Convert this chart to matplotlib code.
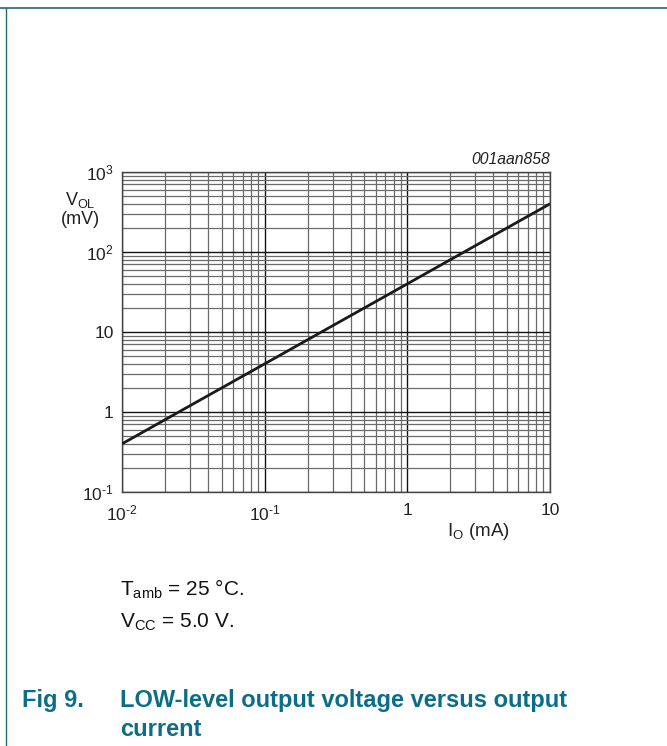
import matplotlib.pyplot as plt
import matplotlib.ticker as mticker
from matplotlib.lines import Line2D

plt.rcParams['font.family'] = ['Liberation Sans', 'DejaVu Sans']
plt.rcParams['mathtext.fontset'] = 'custom'
plt.rcParams['mathtext.rm'] = 'Liberation Sans'
plt.rcParams['mathtext.it'] = 'Liberation Sans:italic'

# data
io_ma = [0.01, 10]
vol_mv = [0.4, 400]
xticks = [0.01, 0.1, 1, 10]
xlabels = ['10$^{\\text{-}2}$', '10$^{\\text{-}1}$', '1', '10']
yticks = [0.1, 1, 10, 100, 1000]
ylabels = ['10$^{\\text{-}1}$', '1', '10', '10$^{2}$', '10$^{3}$']

teal = '#0c6e86'

fig = plt.figure(figsize=(6.67, 7.46), dpi=100)
ax = fig.add_axes([122 / 667, 254 / 746, 428 / 667, 320 / 746])

ax.plot(io_ma, vol_mv, color='#1a1a1a', lw=2.0, zorder=3, solid_capstyle='butt')

ax.set_xscale('log')
ax.set_yscale('log')
ax.set_xlim(0.01, 10)
ax.set_ylim(0.1, 1000)
ax.set_xticks(xticks)
ax.set_xticklabels(xlabels)
ax.set_yticks(yticks)
ax.set_yticklabels(ylabels)
ax.xaxis.set_minor_locator(mticker.LogLocator(base=10, subs=range(2, 10)))
ax.yaxis.set_minor_locator(mticker.LogLocator(base=10, subs=range(2, 10)))
ax.xaxis.set_minor_formatter(mticker.NullFormatter())
ax.yaxis.set_minor_formatter(mticker.NullFormatter())
ax.tick_params(which='both', length=0, labelsize=12.5, colors='#222222')
ax.tick_params(axis='x', pad=8)
ax.tick_params(axis='y', pad=6)
ax.grid(which='major', color='#111111', lw=1.0)
ax.grid(which='minor', color='#6a6a6a', lw=0.9)
for s in ax.spines.values():
    s.set_color('#444444')
    s.set_linewidth(1.0)

fig.text(80 / 667, 1 - 209 / 746, 'V$_{\\rm OL}$\n(mV)', ha='center', va='center',
         fontsize=13, color='#222222', linespacing=1.05)
fig.text(478 / 667, 1 - 531 / 746, 'I$_{\\rm O}$ (mA)', ha='center', va='center',
         fontsize=13.5, color='#222222')
fig.text(550 / 667, 1 - 160 / 746, '001aan858', ha='right', va='center',
         fontsize=11.3, style='italic', color='#222222')

fig.text(120 / 667, 1 - 589 / 746, 'T$_{\\rm amb}$ = 25 °C.', ha='left', va='center',
         fontsize=15, color='#111111')
fig.text(120 / 667, 1 - 622 / 746, 'V$_{\\rm CC}$ = 5.0 V.', ha='left', va='center',
         fontsize=15, color='#111111')

fig.text(22 / 667, 1 - 700 / 746, 'Fig 9.', ha='left', va='center',
         fontsize=17, weight='bold', color=teal)
fig.text(120 / 667, 1 - 700 / 746, 'LOW-level output voltage versus output',
         ha='left', va='center', fontsize=17, weight='bold', color=teal)
fig.text(120 / 667, 1 - 729 / 746, 'current',
         ha='left', va='center', fontsize=17, weight='bold', color=teal)

# frame lines along top and left
fig.add_artist(Line2D([0, 1], [1 - 8 / 746, 1 - 8 / 746], color='#1d6a7e', lw=1.2))
fig.add_artist(Line2D([6 / 667, 6 / 667], [0, 1 - 8 / 746], color='#1d6a7e', lw=1.0))

fig.savefig('out.png', dpi=100)
